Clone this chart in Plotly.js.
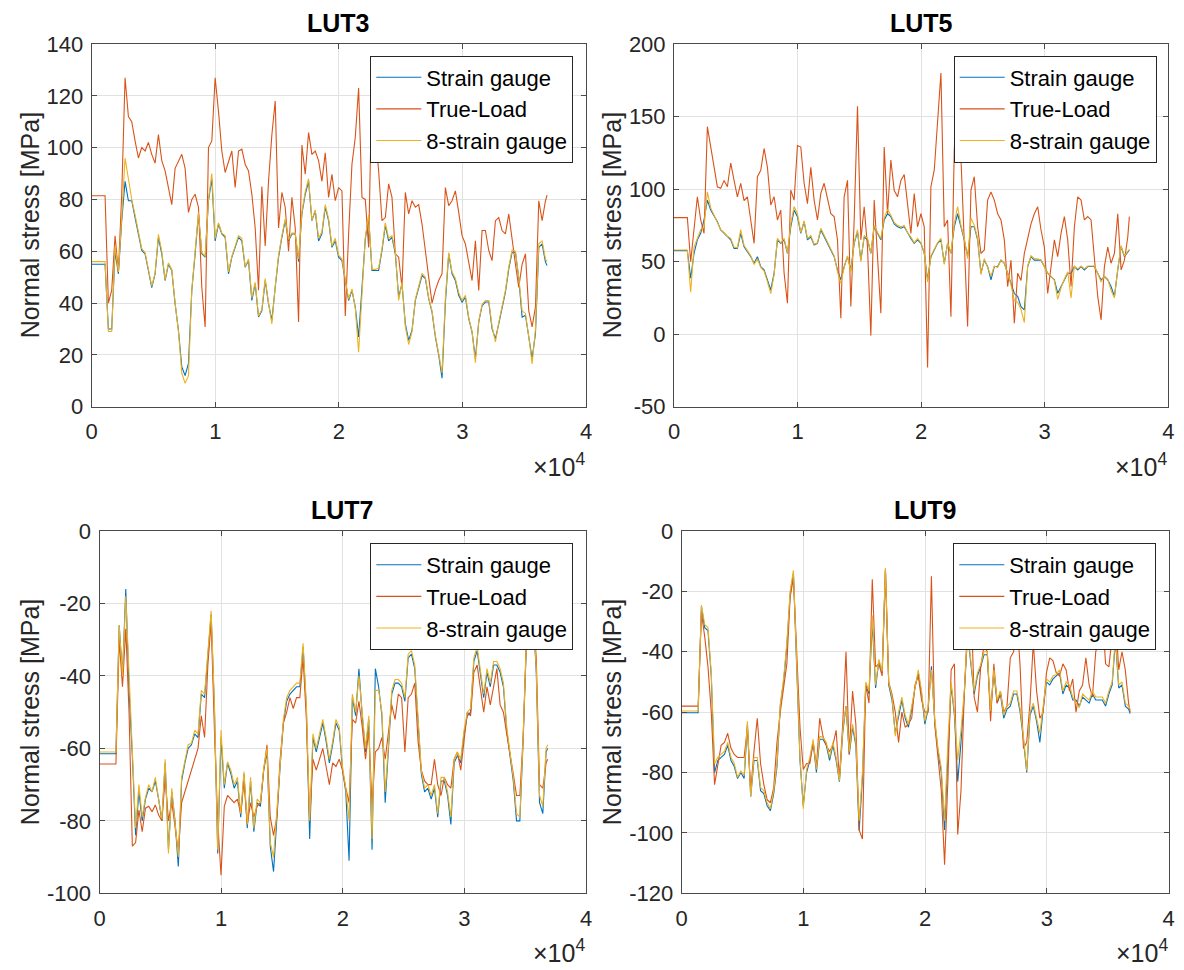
<!DOCTYPE html>
<html>
<head>
<meta charset="utf-8">
<script src="https://cdn.plot.ly/plotly-3.0.1.min.js"></script>
<style>html,body{margin:0;padding:0;background:#fff;}#chart{width:1184px;height:970px;}</style>
</head>
<body>
<div id="chart"></div>
<script>
// ---------------- DATA ----------------
const sampleIndex = [
0,270,540,810,1080,1350,1620,1890,2160,2430,
2700,2970,3240,3510,3780,4050,4320,4590,4860,5130,
5400,5670,5940,6210,6480,6750,7020,7290,7560,7830,
8100,8370,8640,8910,9180,9450,9720,9990,10260,10530,
10800,11070,11340,11610,11880,12150,12420,12690,12960,13230,
13500,13770,14040,14310,14580,14850,15120,15390,15660,15930,
16200,16470,16740,17010,17280,17550,17820,18090,18360,18630,
18900,19170,19440,19710,19980,20250,20520,20790,21060,21330,
21600,21870,22140,22410,22680,22950,23220,23490,23760,24030,
24300,24570,24840,25110,25380,25650,25920,26190,26460,26730,
27000,27270,27540,27810,28080,28350,28620,28890,29160,29430,
29700,29970,30240,30510,30780,31050,31320,31590,31860,32130,
32400,32670,32940,33210,33480,33750,34020,34290,34560,34830,
35100,35370,35640,35910,36180,36450,36720,36850];

const seriesNames = ["Strain gauge", "True-Load", "8-strain gauge"];
const panelTitles = ["LUT3", "LUT5", "LUT7", "LUT9"];
const xTickVals = [0, 10000, 20000, 30000, 40000];
const xTickText = ["0", "1", "2", "3", "4"];
const lut3TickVals = [0, 20, 40, 60, 80, 100, 120, 140];
const lut3TickText = ["0", "20", "40", "60", "80", "100", "120", "140"];
const lut5TickVals = [-50, 0, 50, 100, 150, 200];
const lut5TickText = ["-50", "0", "50", "100", "150", "200"];
const lut7TickVals = [-100, -80, -60, -40, -20, 0];
const lut7TickText = ["-100", "-80", "-60", "-40", "-20", "0"];
const lut9TickVals = [-120, -100, -80, -60, -40, -20, 0];
const lut9TickText = ["-120", "-100", "-80", "-60", "-40", "-20", "0"];

// LUT3
const lut3StrainGauge = [
55,55,55,55,55,30,30,60,51.3,71.8,
87,79.5,79.5,73,66.7,60.3,59,52.6,46,51.3,
65.4,59,48.7,55,52.6,39.7,29.5,15.4,12,16.7,
44.9,59,74.4,59,57.7,79.5,88,64,70.5,66.7,
65.4,51.3,57.7,61.5,65.4,64,53.8,56.4,41,47.4,
34.6,37,48.7,39.7,33.3,46,57.7,65.4,71.8,64,
66.7,66.7,56,74.4,82,87,71.8,75.6,64,66.7,
77,71.8,61.5,64,57.7,56.4,48.7,41,44.9,38.5,
26.9,44.9,64.7,73,52.6,52.6,52.6,60.3,70,64,
65.4,59,42.3,47.4,32,25.6,29.5,41,45.5,50.6,
49.4,41.7,36.5,26.9,19.9,11,40,59,51.3,48.7,
43,40.4,42.3,34,28.8,18.6,32.7,39,40.4,40.4,
30,26.3,32,37.8,44.2,53.2,59.6,59.6,49.4,34.6,
35.3,26.9,18.6,28.2,61.5,62.8,55.8,54.5];
const lut3TrueLoad = [
81.4,81.4,81.4,81.4,81.4,40,45,66,52,82,
127,112,110,102.6,96,100,98.7,102,97.4,94,
105,95,91,84.6,78,92,95,97.4,92,75,
80,82,77,46,30.8,100,102.6,127,114,98.7,
90.4,95,98.7,84.6,98.7,99.4,93.6,91,82,69,
45,85,62,87,105,118,69,82.7,77,60,
80.8,69,32.7,101,89.7,105.8,97.4,98.7,95,87,
98,80.8,89.7,79.5,84.6,83.3,35,66.7,93.6,104,
123,80.8,80,61.5,126,106,91,71.8,73,86,
80.8,59,57.7,46,82.7,74.4,79.5,77,78,70.5,
59,50,40,45,48.7,51.3,84.6,77.6,79.5,83.3,
75,66,62.8,56.4,48.7,64,44.9,68,68,60.3,
56.4,71.8,73,68,66.7,74.4,64,55,46,55,
59,37,30.8,38.5,79.5,71.8,79.5,81.7];
const lut3EightGauge = [
56,56,56,56,56,29,29,62,52,73,
96,88,80,74,67,61,59.5,53,46.5,51.5,
66.5,60,49,55.5,53,40,29,13,9,12,
45,60,75,59.5,58,80,90,65,71,67,
66,52,58,62,66,65,54,57,42,48,
35,37.5,49.5,40,32,46.5,58.5,66,72.5,64.5,
67,67,57,75,83,88,72,76,65,67.5,
78,72.5,62,65,58.5,57,49.5,41.5,45.5,38,
21,45,65.5,74,53,53,53.5,61,71,65,
66,60,41,48,31,24,29,41.5,46,51.5,
50,42,37,27.5,20.5,13,42,59.5,52,49.5,
44,41,43,34.5,29,17,33,39.5,41,41,
31,25,32.5,38.5,45,54,60.5,60,50,37,
36,27,16.5,30,63,64,57,56];

// LUT5
const lut5StrainGauge = [
57.6,57.6,57.6,57.6,57.6,38.5,55.7,65,69.5,78.7,
92.4,85.5,81,77.5,71.8,69.5,67,65,59,59,
69.5,60.3,56.9,53.4,48.9,53.4,46.6,44.3,37.4,30.5,
42,65,62.6,65,55.7,74,85.5,81,69.5,77.5,
65,67,61.5,62.6,71.8,67,62.6,58,53.4,44.3,
37.4,46.6,53.4,44.3,62.6,70.6,51,67,65,55.7,
74,69.5,65,78.7,83,81,76,74,73,74,
69.5,66,62.6,65,62.6,55.7,37.4,53.4,58,62.6,
65,48.9,62.6,55.7,74,83,74,65,53.4,74,
74,65,42,51,46.6,37.4,46.6,46.6,51,48.9,
42,35,28,26,19,16.7,46.6,53.4,51,51,
51,46.6,42,39.7,37.4,28.2,32.8,37.4,42,42,
46.6,44.3,46.6,44.3,46.6,46.6,46.6,42,37.4,39.7,
37.4,32.8,26,44.3,60.3,53.4,56.9,58];
const lut5TrueLoad = [
80.3,80.3,80.3,80.3,80.3,50,74,94.7,78.7,69.5,
143,129,113,101.6,100.5,106,101.6,118,106,94.7,
104,92,94.7,78.7,62.6,108.5,113,128,115,89,
94.7,78.7,85.5,42,21.3,99.3,92.4,130,129,104,
90,115,92.4,78.7,97,104,92.4,83,81,65,
11,94.7,106,19,78.7,157,65,87.8,60,-1,
92.4,55.7,14.4,129,83,120,99,94.7,106,110,
87.8,69.5,97,74,83,74,-23,101.6,113,150,
180,74,78.7,12,126.8,179.6,122,53.4,5.3,99.3,
108.5,74,55.7,58,92.4,98,92.4,83,78.7,65,
32.8,51,7.6,42,37,55.7,65,76,83,87.8,
71.8,60,28,46.6,65,53.4,69.5,81,65,32.8,
74,94.7,92.4,78.7,81,78.7,53.4,26,9.9,46.6,
60,48.9,55.7,83,44.3,51,67,81];
const lut5EightGauge = [
58,58,58,58,58,29,60,66,72,74,
98,87,82,78,72,70,67.5,66,60,59.5,
72,61,57.5,54,48,52,46,43.5,36,28,
41,66,63,66,56,76,88,83,70,78,
66,68,62,63,73,68,63,58.5,54,43,
35,46,54,43,63,72,50,68,66,56,
75,70,66,80,86,82,77,75,74,75,
70,67,63,66,63,56,36,54,59,63,
66,48,63,56,76,88,75,66,52,80,
75,66,41,52,46,40,47,46,51,49,
42,34,23,22,17,8,47,54,52,52,
51,46,42,40,37,24,32,38,43,25,
47,45,47,45,47,47,47,42,36,40,
38,30,25,45,61,54,57.5,58.5];

// LUT7
const lut7StrainGauge = [
-61.5,-61.5,-61.5,-61.5,-61.5,-61.5,-26,-40,-16,-44,
-62,-84,-72,-80,-74,-71,-72,-69,-74,-80,
-64,-88,-72,-80,-92.6,-69,-64,-60,-59,-56,
-57,-45,-46,-33,-23,-49,-89,-57,-71,-64,
-67,-71,-69,-79,-67,-82,-69,-83,-75,-76,
-66,-61,-87,-94,-79,-65,-53,-47,-45,-44,
-43,-43,-32,-49,-85,-57,-61,-57,-53,-58,
-64,-59,-53,-55,-66,-72,-91,-46,-51,-38,
-51,-61,-52,-88,-38,-43,-51,-75,-60,-45,
-42,-42,-43,-47,-35,-34,-38,-54,-67,-72,
-71,-74,-71,-79,-69,-69,-73,-81,-64,-62,
-64,-56,-51,-50,-36,-33,-39,-46,-39,-43,
-37,-37,-39,-43,-55,-62,-69,-80,-80,-58,
-31,-18,-22,-39,-75,-78,-61,-60];
const lut7TrueLoad = [
-64.3,-64.3,-64.3,-64.3,-64.3,-64.3,-30,-43,-27,-50,
-87,-86,-77,-83,-76.5,-76,-77.5,-75.6,-78.4,-80,
-68,-80,-74.7,-81,-88.5,-75,-72,-69,-66,-62.7,
-60,-51,-57,-37,-25,-55,-80,-95,-76,-73,
-74,-75,-74,-78,-69,-81,-75,-79,-76,-75,
-66,-59,-79,-84,-79,-63,-53,-50,-46,-49,
-46,-46,-35,-52,-80,-63,-66,-63,-60,-65,
-70,-64,-65,-63,-66,-71,-75,-52,-53,-47,
-54,-63,-55,-76,-61,-60,-57,-63,-55,-48,
-52,-45,-46,-61,-46,-45,-42,-58,-66,-69,
-70,-70,-63,-70,-73,-68,-70,-71,-63,-61,
-66,-57,-50,-51,-39,-37,-44,-50,-43,-48,
-43,-38,-48,-50,-56,-61,-67,-73,-73,-57,
-30,-20,-22,-35,-70,-71,-64,-63];
const lut7EightGauge = [
-61,-61,-61,-61,-61,-61,-26,-40,-18,-40,
-62,-82,-70,-79,-73.5,-70,-72,-68,-74,-79.5,
-63,-89,-71,-80,-90,-68,-63,-59,-58.6,-55,
-56,-44,-45,-33,-22,-48,-88,-55,-70,-63.7,
-66,-70,-68,-78,-66.4,-81,-68,-82,-74,-75,
-65.5,-60,-86,-90,-78,-64,-52,-46,-44,-43,
-42,-42,-31,-48,-80,-56,-60,-56,-52,-57,
-63,-58,-52,-54,-65,-71,-80,-45,-50,-40,
-50,-60,-51,-85,-44,-44,-50,-72,-59,-44,
-41,-41,-42,-46,-34,-33,-37,-53,-66,-71,
-70,-73,-70,-78,-68,-68,-72,-79,-63,-61,
-63,-55,-50,-49,-35,-32,-38,-45,-38,-42,
-36,-36,-38,-42,-54,-61,-68,-78,-79,-57,
-30,-18,-22,-38,-73,-76,-60,-59];

// LUT9
const lut9StrainGauge = [
-60.2,-60.2,-60.2,-60.2,-60.2,-60.2,-25,-32,-33,-48,
-80,-76,-75,-74,-71,-76,-78,-82,-80,-82,
-64,-88,-76,-76,-86,-87,-91,-92.6,-87,-78,
-58,-50,-38,-21,-14,-48,-76,-91,-80,-76,
-70,-80,-69,-69,-71,-76,-71,-76,-83,-67,
-58,-74,-65,-71,-99.3,-82,-51,-54,-30,-52,
-43,-47,-13,-51,-56,-67,-61,-56,-62,-65,
-59,-52,-47,-54,-64,-59,-44.8,-63,-73,-80,
-99,-72,-51,-61,-83,-70,-54,-34,-43,-54,
-48,-45,-41,-41,-60,-47,-57,-54,-62,-59,
-58,-54,-54,-60,-69,-80,-61,-58,-63,-70,
-59,-50,-51,-49,-48,-47,-54,-51,-52,-56,
-56,-58,-55,-56,-57,-54,-56,-56,-56,-58,
-54,-51,-36,-52,-51,-58,-59,-60.5];
const lut9TrueLoad = [
-58,-58,-58,-58,-58,-58,-27,-35,-45,-60,
-84,-77,-71,-70,-67,-72,-74,-75,-75,-75,
-65,-86,-73,-62,-77,-84,-89,-90,-85,-70,
-60,-52,-44,-22,-15.5,-40,-65,-79,-77,-77,
-70,-78,-62,-68,-71,-73,-71,-66,-82,-64,
-40,-74,-53,-64,-99,-102,-51,-57,-16,-45,
-44,-48,-12.5,-50,-54,-60,-70,-60,-65,-64,
-62,-51,-48,-56,-60,-60,-15,-64,-76,-86,
-110.5,-83,-46,-44,-100.5,-86,-54,-31,-22,-55,
-60,-45,-38,-40,-63,-44,-57,-53,-60,-58,
-42,-40,-28,-45,-72,-70,-57,-37,-53,-62,
-60,-47,-42,-43,-47,-48,-44,-46,-53,-49,
-60,-53,-51,-42,-51,-55,-40,-36,-27,-44,
-45,-35,-28,-46,-40,-46,-57,-60];
const lut9EightGauge = [
-59.6,-59.6,-59.6,-59.6,-59.6,-59.6,-24.5,-31,-32,-47,
-77,-75,-74,-73,-70,-75,-77,-81.6,-79.5,-81,
-63,-88,-75,-75,-85,-86,-90,-92,-86,-77,
-57.5,-49,-37,-20,-13,-47,-75,-92,-79,-75,
-69,-79,-68,-68.4,-70,-75,-70,-75,-82.7,-66,
-58,-73,-64,-70,-96,-80,-50,-53,-28,-51,
-42.5,-46.5,-12.3,-50,-55,-68,-60,-55,-61,-64,
-58,-51,-46,-53,-63,-58,-46,-62,-72,-78.4,
-96,-70,-50,-60,-76,-66,-53,-33,-42,-53,
-47,-44.2,-40,-40,-59.6,-46,-56,-53,-61,-58,
-57,-53,-53,-59,-68,-79.4,-60,-57,-62,-67,
-58,-49,-50,-48,-47.5,-46,-53,-50,-51,-55,
-57,-58.5,-54,-55,-56,-53,-55,-55,-55,-57,
-53,-50,-35,-51,-50,-57,-58,-59];

// ---------------- STYLE / LAYOUT ----------------
const W = 1184, H = 970;
const colors = ["#0072BD", "#D95319", "#EDB120"];
const FONT = "Liberation Sans, Arial, Helvetica, sans-serif";
const TXT = "#262626";

// pixel boxes of each axes: [left, right, top, bottom]
const boxes = [
  [91.7, 586, 44, 406.7],
  [674, 1168.3, 44, 406.7],
  [99.5, 586, 531, 893.3],
  [681.7, 1168.5, 531, 893.3]
];
const panelData = [
  [lut3StrainGauge, lut3TrueLoad, lut3EightGauge],
  [lut5StrainGauge, lut5TrueLoad, lut5EightGauge],
  [lut7StrainGauge, lut7TrueLoad, lut7EightGauge],
  [lut9StrainGauge, lut9TrueLoad, lut9EightGauge]
];
const yRanges = [[0, 140], [-50, 200], [-100, 0], [-120, 0]];
const yTicks = [[lut3TickVals, lut3TickText], [lut5TickVals, lut5TickText],
                [lut7TickVals, lut7TickText], [lut9TickVals, lut9TickText]];
const legendBoxes = [[573.3, 55.5], [1156.7, 55.5], [573.3, 543], [1156.3, 543]];
const yLabelX = [30, 612, 30, 612];

const traces = [];
const layout = {
  width: W, height: H,
  margin: {l: 0, r: 0, t: 0, b: 0},
  paper_bgcolor: "#ffffff", plot_bgcolor: "#ffffff",
  showlegend: true,
  annotations: []
};

for (let p = 0; p < 4; p++) {
  const sfx = p === 0 ? "" : String(p + 1);
  const [l, r, t, b] = boxes[p];
  const legName = "legend" + sfx;
  for (let s = 0; s < 3; s++) {
    traces.push({
      type: "scatter", mode: "lines",
      x: sampleIndex, y: panelData[p][s],
      name: seriesNames[s],
      xaxis: "x" + sfx, yaxis: "y" + sfx,
      legend: legName,
      line: {color: colors[s], width: 1.1},
      hoverinfo: "skip"
    });
  }
  const common = {
    showline: true, linecolor: "#4a4a4a", linewidth: 1, mirror: "ticks",
    ticks: "inside", ticklen: 5, tickcolor: "#4a4a4a", tickwidth: 1,
    showgrid: true, gridcolor: "#e2e2e2", gridwidth: 1, zeroline: false,
    tickfont: {family: FONT, size: 22, color: TXT}, fixedrange: true
  };
  layout["xaxis" + sfx] = Object.assign({}, common, {
    domain: [l / W, r / W], anchor: "y" + sfx,
    range: [0, 40000], tickmode: "array", tickvals: xTickVals, ticktext: xTickText,
    ticklabelstandoff: 5
  });
  layout["yaxis" + sfx] = Object.assign({}, common, {
    domain: [1 - b / H, 1 - t / H], anchor: "x" + sfx,
    range: yRanges[p], tickmode: "array", tickvals: yTicks[p][0], ticktext: yTicks[p][1],
    ticklabelstandoff: 3
  });
  layout[legName] = {
    x: legendBoxes[p][0] / W, y: 1 - legendBoxes[p][1] / H,
    xanchor: "right", yanchor: "top",
    bgcolor: "#ffffff", bordercolor: "#262626", borderwidth: 1,
    font: {family: FONT, size: 22, color: "#000"},
    itemwidth: 45, tracegroupgap: 0
  };
  // title
  layout.annotations.push({
    xref: "paper", yref: "paper", x: (l + r) / 2 / W, y: 1 - (t - 21.5) / H,
    text: "<b>" + panelTitles[p] + "</b>", showarrow: false,
    xanchor: "center", yanchor: "middle",
    font: {family: FONT, size: 25, color: "#000"}
  });
  // y label
  layout.annotations.push({
    xref: "paper", yref: "paper", x: yLabelX[p] / W, y: 1 - (t + b) / 2 / H,
    text: "Normal stress [MPa]", textangle: -90, showarrow: false,
    xanchor: "center", yanchor: "middle",
    font: {family: FONT, size: 25, color: TXT}
  });
  // x exponent
  layout.annotations.push({
    xref: "paper", yref: "paper", x: (r + 1) / W, y: 1 - (b + 76) / H,
    text: "\u00d710<sup>4</sup>", showarrow: false,
    xanchor: "right", yanchor: "bottom",
    font: {family: FONT, size: 25, color: TXT}
  });
}

Plotly.newPlot("chart", traces, layout, {displayModeBar: false, staticPlot: true});
</script>
</body>
</html>
